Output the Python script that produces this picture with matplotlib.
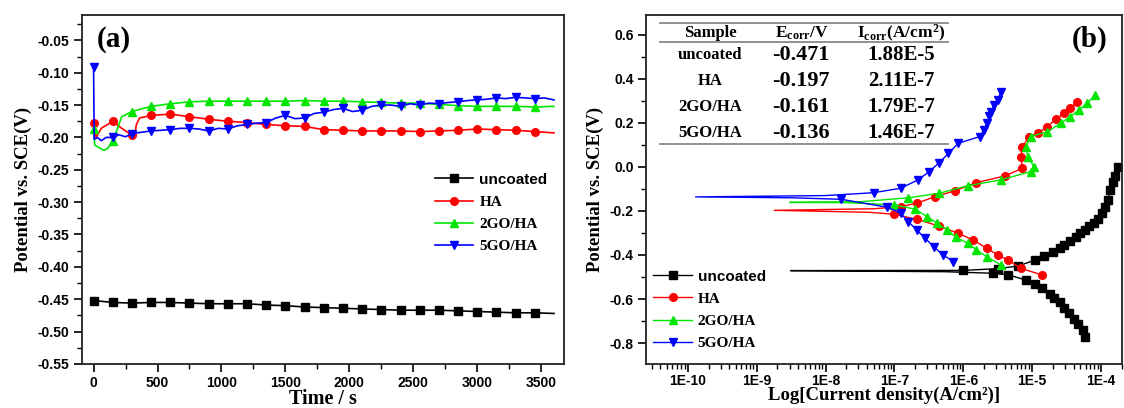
import numpy as np
import matplotlib
matplotlib.use('Agg')
from matplotlib import pyplot as plt
from matplotlib.ticker import MultipleLocator, FuncFormatter, LogLocator, NullFormatter

# ---- (a) open circuit potential vs time ----
t_unc = [0, 150, 300, 450, 600, 750, 900, 1050, 1200, 1350, 1500, 1650, 1800,
         1950, 2100, 2250, 2400, 2550, 2700, 2850, 3000, 3150, 3300, 3450, 3600]
ocp_unc = [-0.452, -0.455, -0.456, -0.455, -0.455, -0.456, -0.457, -0.457, -0.457,
           -0.459, -0.460, -0.462, -0.463, -0.464, -0.465, -0.466, -0.467, -0.467,
           -0.467, -0.468, -0.469, -0.470, -0.471, -0.471, -0.472]

t_ha = [0, 20, 60, 150, 200, 250, 300, 320, 335, 360, 450, 600, 750, 900, 1050,
        1200, 1350, 1500, 1650, 1800, 1950, 2100, 2250, 2400, 2550, 2700, 2850,
        3000, 3150, 3300, 3450, 3600]
ocp_ha = [-0.178, -0.200, -0.186, -0.175, -0.183, -0.190, -0.196, -0.199, -0.180,
          -0.170, -0.166, -0.164, -0.168, -0.172, -0.175, -0.177, -0.180, -0.182,
          -0.183, -0.188, -0.189, -0.190, -0.190, -0.190, -0.191, -0.190, -0.189,
          -0.187, -0.188, -0.189, -0.191, -0.193]

t_2go = [0, 10, 80, 110, 150, 180, 220, 300, 450, 600, 750, 900, 1050, 1200, 1350,
         1500, 1650, 1800, 1950, 2100, 2250, 2400, 2550, 2700, 2850, 3000, 3150,
         3300, 3450, 3600]
ocp_2go = [-0.187, -0.212, -0.220, -0.217, -0.205, -0.190, -0.168, -0.160, -0.152,
           -0.148, -0.145, -0.144, -0.144, -0.144, -0.144, -0.144, -0.143, -0.144,
           -0.144, -0.145, -0.146, -0.147, -0.147, -0.149, -0.151, -0.152, -0.152,
           -0.152, -0.153, -0.152]

t_5go = [0, 5, 30, 60, 100, 150, 200, 250, 300, 375, 450, 525, 600, 675, 750, 825,
         900, 975, 1050, 1125, 1200, 1275, 1350, 1425, 1500, 1575, 1650, 1725, 1800,
         1875, 1950, 2025, 2100, 2175, 2250, 2325, 2400, 2475, 2550, 2625, 2700,
         2775, 2850, 2925, 3000, 3075, 3150, 3225, 3300, 3375, 3450, 3525, 3600]
ocp_5go = [-0.091, -0.203, -0.200, -0.205, -0.200, -0.200, -0.196, -0.199, -0.194,
           -0.192, -0.190, -0.189, -0.188, -0.186, -0.186, -0.187, -0.190, -0.186,
           -0.187, -0.182, -0.180, -0.178, -0.177, -0.170, -0.166, -0.171, -0.170,
           -0.163, -0.161, -0.157, -0.155, -0.160, -0.158, -0.152, -0.150, -0.150,
           -0.152, -0.148, -0.150, -0.147, -0.148, -0.146, -0.145, -0.143, -0.142,
           -0.141, -0.139, -0.140, -0.138, -0.139, -0.140, -0.139, -0.142]

# ---- (b) Tafel curves: current density (A/cm2), potential (V) ----
i_unc = [5.9e-5, 5.4e-5, 4.7e-5, 4.0e-5, 3.4e-5, 2.9e-5, 2.5e-5, 2.1e-5, 1.8e-5,
         1.4e-5, 1.1e-5, 8.1e-6, 4.5e-6, 2.7e-6, 5.5e-7, 3.1e-9, 5.0e-7, 1.0e-6,
         3.2e-6, 6.3e-6, 1.1e-5, 1.5e-5, 2.0e-5, 2.5e-5, 2.9e-5, 3.5e-5, 4.3e-5,
         5.0e-5, 5.9e-5, 6.8e-5, 7.9e-5, 8.9e-5, 1.02e-4, 1.15e-4, 1.26e-4, 1.35e-4,
         1.48e-4, 1.62e-4, 1.78e-4]
e_unc = [-0.771, -0.740, -0.715, -0.690, -0.665, -0.640, -0.615, -0.595, -0.575,
         -0.550, -0.530, -0.514, -0.490, -0.483, -0.476, -0.471, -0.470, -0.470,
         -0.462, -0.450, -0.423, -0.405, -0.385, -0.370, -0.355, -0.335, -0.317,
         -0.300, -0.286, -0.270, -0.256, -0.235, -0.210, -0.180, -0.150, -0.105,
         -0.070, -0.040, 0.000]

i_ha = [1.4e-5, 6.8e-6, 4.5e-6, 3.2e-6, 2.2e-6, 1.4e-6, 8.5e-7, 4.4e-7, 2.1e-7,
        1.0e-7, 4.3e-8, 1.8e-9, 5.0e-8, 1.26e-7, 2.1e-7, 3.9e-7, 7.6e-7, 1.55e-6,
        4.0e-6, 7.2e-6, 6.9e-6, 7.2e-6, 9.1e-6, 1.2e-5, 1.66e-5, 2.2e-5, 2.9e-5,
        3.6e-5, 4.5e-5]
e_ha = [-0.491, -0.460, -0.423, -0.400, -0.370, -0.332, -0.302, -0.268, -0.238,
        -0.215, -0.206, -0.197, -0.190, -0.180, -0.165, -0.135, -0.108, -0.071,
        -0.041, -0.006, 0.047, 0.092, 0.138, 0.153, 0.183, 0.217, 0.244, 0.267, 0.297]

i_2go = [3.5e-6, 2.2e-6, 1.55e-6, 1.17e-6, 7.9e-7, 5.8e-7, 4.2e-7, 3.0e-7, 2.0e-7,
         1.0e-7, 2.0e-8, 3.0e-9, 3.2e-8, 1.6e-7, 4.4e-7, 1.17e-6, 3.5e-6, 9.5e-6,
         1.07e-5, 8.6e-6, 8.1e-6, 9.5e-6, 1.66e-5, 2.6e-5, 3.6e-5, 4.8e-5, 6.3e-5,
         8.3e-5]
e_2go = [-0.445, -0.408, -0.377, -0.347, -0.320, -0.286, -0.256, -0.226, -0.192,
         -0.172, -0.162, -0.161, -0.158, -0.140, -0.120, -0.085, -0.059, -0.021,
         0.000, 0.047, 0.092, 0.138, 0.160, 0.199, 0.229, 0.259, 0.290, 0.327]

i_5go = [7.2e-7, 5.1e-7, 3.7e-7, 2.8e-7, 2.1e-7, 1.6e-7, 1.23e-7, 7.9e-8, 1.7e-8,
         3.2e-9, 1.3e-10, 1.0e-8, 5.0e-8, 1.23e-7, 2.2e-7, 3.2e-7, 4.4e-7, 6.1e-7,
         8.5e-7, 1.74e-6, 2.0e-6, 2.2e-6, 2.4e-6, 2.5e-6, 2.8e-6, 3.2e-6, 3.5e-6]
e_5go = [-0.430, -0.400, -0.362, -0.324, -0.286, -0.249, -0.210, -0.183, -0.147,
         -0.140, -0.136, -0.130, -0.117, -0.097, -0.059, -0.021, 0.017, 0.062,
         0.108, 0.138, 0.170, 0.200, 0.230, 0.250, 0.280, 0.305, 0.342]

samples = ['uncoated', 'HA', '2GO/HA', '5GO/HA']
ecorr = ['-0.471', '-0.197', '-0.161', '-0.136']
icorr = ['1.88E-5', '2.11E-7', '1.79E-7', '1.46E-7']
decades = [-10, -9, -8, -7, -6, -5, -4]

colors = ['black', '#ff0000', '#00e600', '#0000ff']
markers = ['s', 'o', '^', 'v']

SERIF = 'Liberation Serif'
SANS = 'Liberation Sans'
plt.rcParams['axes.unicode_minus'] = False
plt.rcParams['mathtext.fontset'] = 'custom'
plt.rcParams['mathtext.rm'] = 'Liberation Serif:bold'
plt.rcParams['mathtext.bf'] = 'Liberation Serif:bold'
plt.rcParams['mathtext.it'] = 'Liberation Serif:bold'


def style_axes(ax):
    for s in ax.spines.values():
        s.set_linewidth(1.3)
        s.set_color('#222222')
    ax.tick_params(which='major', direction='out', length=6, width=1.2,
                   labelsize=10, pad=3)
    ax.tick_params(which='minor', direction='out', length=3.5, width=1.0)
    for lab in ax.get_xticklabels() + ax.get_yticklabels():
        lab.set_fontfamily(SANS)
        lab.set_fontweight('bold')


def fix_legend(leg):
    for k, txt in enumerate(leg.get_texts()):
        txt.set_fontweight('bold')
        txt.set_fontfamily(SANS if k == 0 else SERIF)


fig = plt.figure(figsize=(11.24, 4.08), dpi=100)

# ---------- panel (a) ----------
ax1 = fig.add_axes([0.073, 0.108, 0.429, 0.855])
ocp_t = [t_unc, t_ha, t_2go, t_5go]
ocp_v = [ocp_unc, ocp_ha, ocp_2go, ocp_5go]
for t, v, c, m, name in zip(ocp_t, ocp_v, colors, markers, samples):
    idx = [k for k, tt in enumerate(t) if tt % 150 == 0 and tt < 3600]
    ax1.plot(t, v, color=c, lw=1.2, marker=m, ms=5.5, markevery=idx, label=name)
ax1.set_xlim(-90, 3680)
ax1.set_ylim(-0.55, -0.011)
ax1.xaxis.set_major_locator(MultipleLocator(500))
ax1.xaxis.set_minor_locator(MultipleLocator(250))
ax1.yaxis.set_major_locator(MultipleLocator(0.05))
ax1.yaxis.set_minor_locator(MultipleLocator(0.025))
ax1.yaxis.set_major_formatter(FuncFormatter(lambda v, p: '%.2f' % v))
ax1.set_xlabel('Time / s', fontfamily=SERIF, fontweight='bold', fontsize=14.5,
               labelpad=-1)
ax1.set_ylabel('Potential vs. SCE(V)', fontfamily=SERIF, fontweight='bold', fontsize=13.5,
               labelpad=4)
ax1.text(0.03, 0.93, '(a)', transform=ax1.transAxes, fontfamily=SERIF,
         fontweight='bold', fontsize=21, va='center', ha='left')
style_axes(ax1)
leg1 = ax1.legend(loc='upper left', bbox_to_anchor=(0.732, 0.548), frameon=False,
                  fontsize=11, handlelength=2.5, handletextpad=0.4, labelspacing=0.55,
                  borderpad=0, borderaxespad=0)
fix_legend(leg1)

# ---------- panel (b) ----------
ax2 = fig.add_axes([0.575, 0.108, 0.423, 0.855])
taf_i = [i_unc, i_ha, i_2go, i_5go]
taf_e = [e_unc, e_ha, e_2go, e_5go]
for i, e, c, m, name in zip(taf_i, taf_e, colors, markers, samples):
    spike = int(np.argmin(i))
    idx = [k for k in range(len(i)) if abs(k - spike) > 1]
    ax2.semilogx(i, e, color=c, lw=1.0, marker=m, ms=5.5, markevery=idx, label=name)
ax2.set_xlim(2.5e-11, 2e-4)
ax2.set_ylim(-0.895, 0.69)
ax2.set_xticks([10.0 ** d for d in decades])
ax2.xaxis.set_minor_locator(LogLocator(base=10, subs=np.arange(2, 10), numticks=20))
ax2.xaxis.set_minor_formatter(NullFormatter())
ax2.xaxis.set_major_formatter(FuncFormatter(lambda v, p: '1E%d' % round(np.log10(v))))
ax2.yaxis.set_major_locator(MultipleLocator(0.2))
ax2.yaxis.set_minor_locator(MultipleLocator(0.1))
ax2.yaxis.set_major_formatter(FuncFormatter(lambda v, p: '%.1f' % v))
ax2.set_xlabel('Log[Current density(A/cm²)]', fontfamily=SERIF, fontweight='bold',
               fontsize=13.5, labelpad=-1)
ax2.set_ylabel('Potential vs. SCE(V)', fontfamily=SERIF, fontweight='bold', fontsize=13.5,
               labelpad=4)
ax2.text(0.97, 0.93, '(b)', transform=ax2.transAxes, fontfamily=SERIF,
         fontweight='bold', fontsize=21, va='center', ha='right')
style_axes(ax2)
ax2.tick_params(axis='x', which='major', pad=1.5)
leg2 = ax2.legend(loc='upper left', bbox_to_anchor=(0.015, 0.27), frameon=False,
                  fontsize=11, handlelength=2.5, handletextpad=0.4, labelspacing=0.55,
                  borderpad=0, borderaxespad=0)
fix_legend(leg2)

# inset table
for yl in [0.978, 0.923, 0.630]:
    ax2.plot([0.029, 0.635], [yl, yl], transform=ax2.transAxes, color='#888888', lw=1.3)
col_x = [0.135, 0.326, 0.536]
ax2.text(col_x[0], 0.948, 'Sample', transform=ax2.transAxes, ha='center', va='center',
         fontfamily=SERIF, fontweight='bold', fontsize=12)
ax2.text(col_x[1], 0.948, 'E$_{corr}$/V', transform=ax2.transAxes, ha='center',
         va='center', fontfamily=SERIF, fontweight='bold', fontsize=12.5)
ax2.text(col_x[2], 0.948, 'I$_{corr}$(A/cm$^2$)', transform=ax2.transAxes, ha='center',
         va='center', fontfamily=SERIF, fontweight='bold', fontsize=12.5)
row_y = [0.885, 0.811, 0.737, 0.663]
for ry, s, ec, ic in zip(row_y, samples, ecorr, icorr):
    ax2.text(col_x[0], ry, s, transform=ax2.transAxes, ha='center', va='center',
             fontfamily=SERIF, fontweight='bold', fontsize=12)
    ax2.text(col_x[1], ry, ec, transform=ax2.transAxes, ha='center', va='center',
             fontfamily=SERIF, fontweight='bold', fontsize=16)
    ax2.text(col_x[2], ry, ic, transform=ax2.transAxes, ha='center', va='center',
             fontfamily=SERIF, fontweight='bold', fontsize=15)

plt.savefig('out.png', dpi=100)
